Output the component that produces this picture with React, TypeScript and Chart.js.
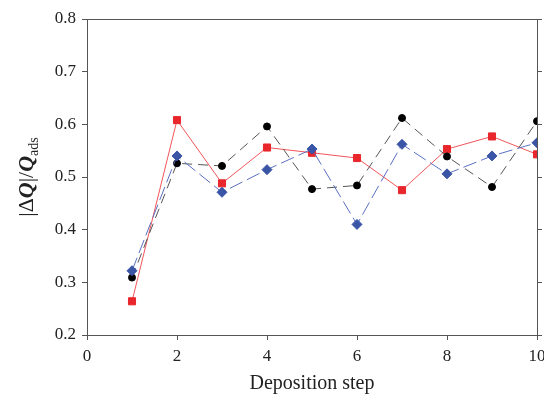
import React, { useEffect, useRef } from "react";
import { Chart, registerables } from "chart.js";

Chart.register(...registerables);

const steps = [1, 2, 3, 4, 5, 6, 7, 8, 9, 10];
const redSeries = [0.264, 0.608, 0.488, 0.556, 0.546, 0.536, 0.475, 0.553, 0.577, 0.543];
const blackSeries = [0.309, 0.526, 0.521, 0.596, 0.477, 0.484, 0.612, 0.539, 0.481, 0.606];
const blueSeries = [0.322, 0.540, 0.471, 0.514, 0.553, 0.410, 0.562, 0.506, 0.540, 0.565];
const xTickStep = 2;
const yTickStep = 0.1;
const xLabel = "Deposition step";

const SERIF = "'Liberation Serif', 'Times New Roman', serif";

const toPoints = (vals: number[]) => vals.map((v, i) => ({ x: steps[i], y: v }));

const decorPlugin = {
  id: "decor",
  afterDraw(chart: any) {
    const { ctx, chartArea } = chart;
    ctx.save();
    ctx.strokeStyle = "#555";
    ctx.lineWidth = 1;
    ctx.beginPath();
    ctx.moveTo(chartArea.left, Math.round(chartArea.top) + 0.5);
    ctx.lineTo(chartArea.right, Math.round(chartArea.top) + 0.5);
    ctx.stroke();

    ctx.fillStyle = "#222";
    ctx.font = `20px ${SERIF}`;
    ctx.textAlign = "center";
    ctx.textBaseline = "middle";
    ctx.fillText(xLabel, (chartArea.left + chartArea.right) / 2, 384);

    const cy = (chartArea.top + chartArea.bottom) / 2;
    ctx.translate(33, cy);
    ctx.rotate(-Math.PI / 2);
    ctx.textAlign = "left";
    ctx.textBaseline = "alphabetic";
    const parts: [string, string, number][] = [
      ["|\u0394", `22px ${SERIF}`, 0],
      ["Q", `italic bold 22px ${SERIF}`, 0],
      ["|/", `22px ${SERIF}`, 0],
      ["Q", `italic bold 22px ${SERIF}`, 0],
      ["ads", `14px ${SERIF}`, 5],
    ];
    let total = 0;
    for (const [t, f] of parts) {
      ctx.font = f;
      total += ctx.measureText(t).width;
    }
    let x = -total / 2;
    for (const [t, f, dy] of parts) {
      ctx.font = f;
      ctx.fillText(t, x, dy);
      x += ctx.measureText(t).width;
    }
    ctx.restore();
  },
};

export default function App() {
  const ref = useRef<HTMLCanvasElement>(null);
  useEffect(() => {
    document.body.style.margin = "0";
    const chart = new Chart(ref.current!, {
      type: "line",
      data: {
        datasets: [
          {
            label: "blue",
            data: toPoints(blueSeries),
            borderColor: "#5a6fc0",
            backgroundColor: "#3a54a6",
            pointBackgroundColor: "#3a54a6",
            pointBorderColor: "#3a54a6",
            borderWidth: 1,
            borderDash: [14, 5],
            pointStyle: "rectRot",
            pointRadius: 5,
            pointBorderWidth: 1,
          },
          {
            label: "black",
            data: toPoints(blackSeries),
            borderColor: "#555",
            backgroundColor: "#000",
            pointBackgroundColor: "#000",
            pointBorderColor: "#000",
            borderWidth: 1,
            borderDash: [10, 6],
            pointStyle: "circle",
            pointRadius: 3.5,
            pointBorderWidth: 1,
          },
          {
            label: "red",
            data: toPoints(redSeries),
            borderColor: "#f0555a",
            backgroundColor: "#e8262b",
            pointBackgroundColor: "#e8262b",
            pointBorderColor: "#e8262b",
            borderWidth: 1,
            pointStyle: "rect",
            pointRadius: 5,
            pointBorderWidth: 1,
          },
        ],
      },
      options: {
        animation: false,
        responsive: false,
        layout: { padding: { top: 19, left: 0, right: 0, bottom: 0 } },
        plugins: { legend: { display: false }, tooltip: { enabled: false } },
        scales: {
          x: {
            type: "linear",
            min: 0,
            max: 10,
            ticks: {
              stepSize: xTickStep,
              font: { family: SERIF, size: 17 },
              color: "#222",
              padding: 6,
              maxRotation: 0,
            },
            grid: { display: true, drawOnChartArea: false, drawTicks: true, tickLength: 5, color: "#555" },
            border: { display: true, color: "#555", width: 1 },
            afterFit: (s: any) => {
              s.height = 71;
              s.paddingRight = 0;
              s.paddingLeft = 0;
            },
          },
          y: {
            position: "left",
            min: 0.2,
            max: 0.8,
            ticks: {
              stepSize: yTickStep,
              font: { family: SERIF, size: 17 },
              color: "#222",
              padding: 6,
              callback: (v: any) => Number(v).toFixed(1),
            },
            grid: { display: true, drawOnChartArea: false, drawTicks: true, tickLength: 5, color: "#555" },
            border: { display: true, color: "#555", width: 1 },
            afterFit: (s: any) => {
              s.width = 87;
            },
          },
          y2: {
            position: "right",
            min: 0.2,
            max: 0.8,
            ticks: { stepSize: yTickStep, display: false },
            grid: { display: true, drawOnChartArea: false, drawTicks: true, tickLength: 5, color: "#555" },
            border: { display: true, color: "#555", width: 1 },
            afterFit: (s: any) => {
              s.width = 7;
            },
          },
        },
      },
      plugins: [decorPlugin],
    });
    return () => chart.destroy();
  }, []);
  return (
    <div style={{ position: "absolute", left: 0, top: 0, width: 544, height: 406, background: "#fff" }}>
      <canvas ref={ref} width={544} height={406} style={{ width: 544, height: 406 }} />
    </div>
  );
}
